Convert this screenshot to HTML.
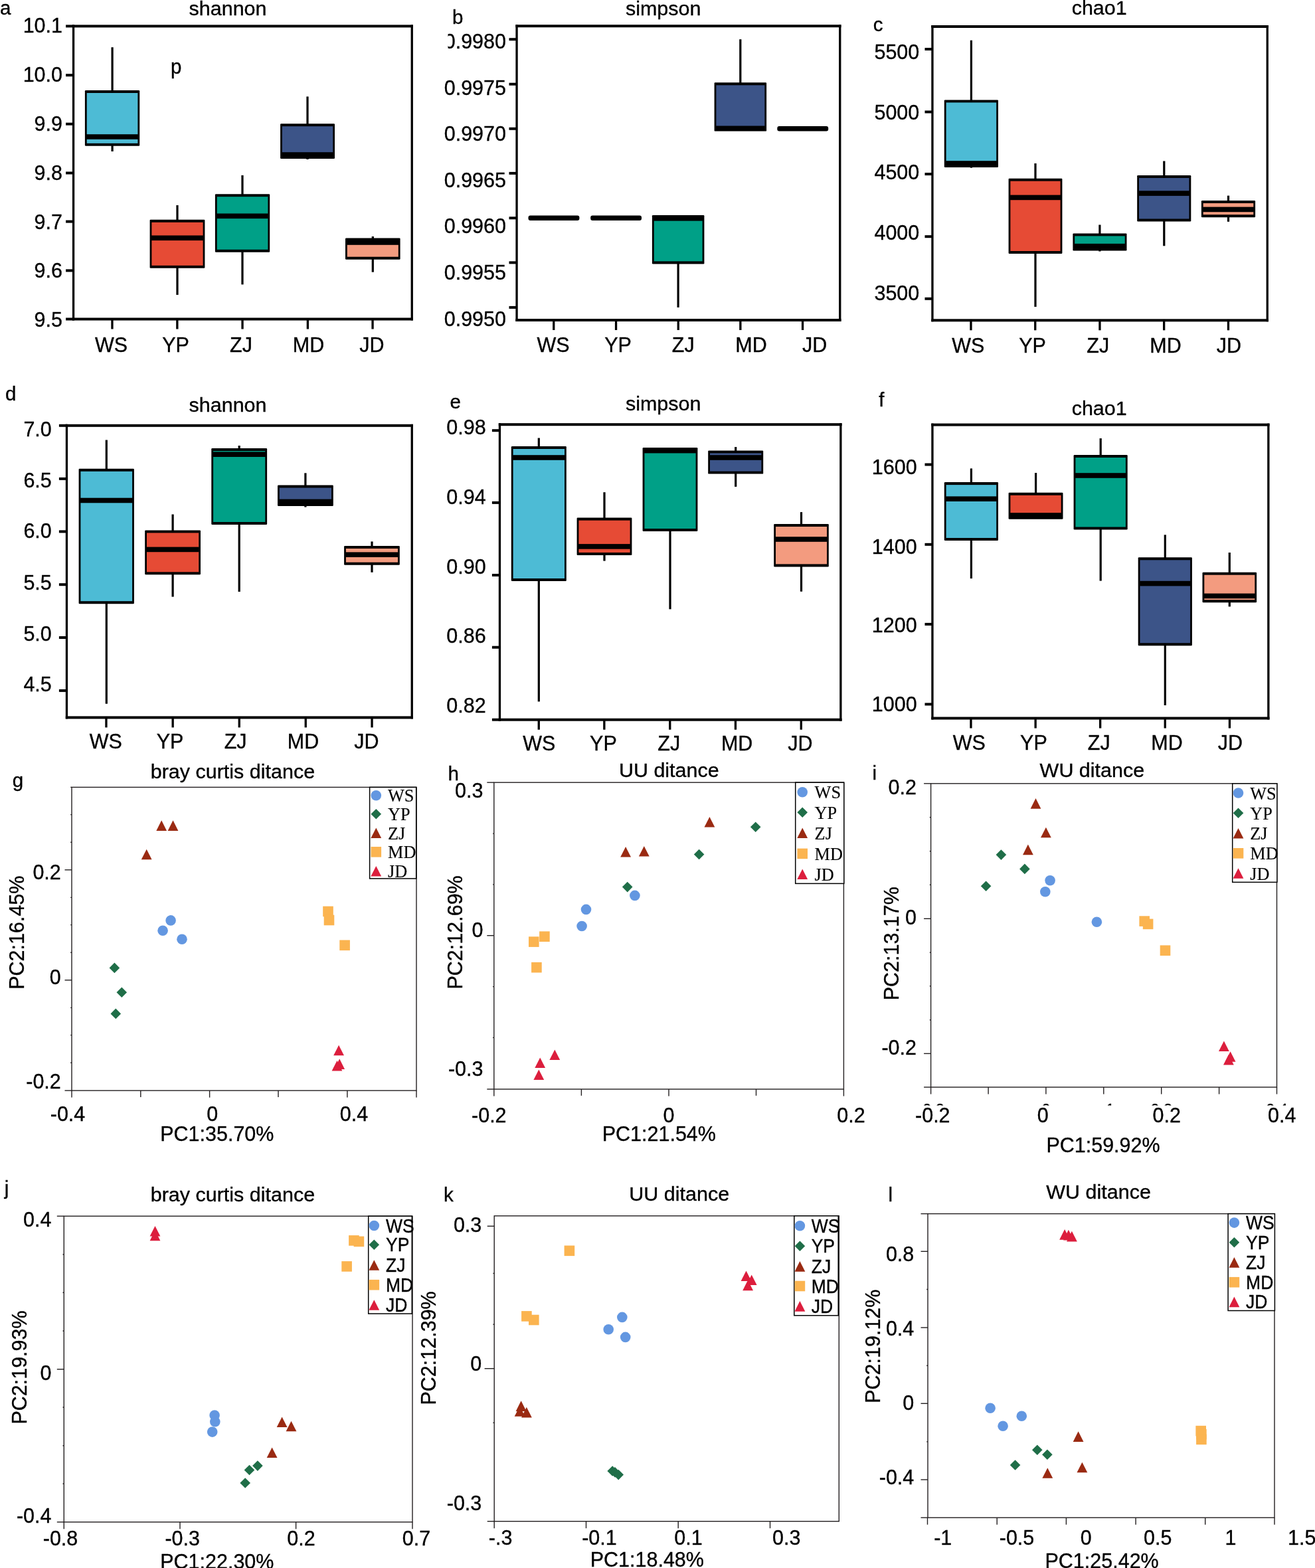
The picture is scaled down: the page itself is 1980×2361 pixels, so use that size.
<!DOCTYPE html>
<html lang="en">
<head>
<meta charset="utf-8">
<title>Alpha and beta diversity of microbial communities</title>
<style>
html,body{margin:0;padding:0;background:#fff;}
body{width:1980px;height:2361px;overflow:hidden;}
svg{display:block;}
svg text{font-family:"Liberation Sans", sans-serif;fill:#000;stroke:#000;stroke-width:0.35px;}
svg text.sf{font-family:"Liberation Serif", serif;stroke-width:0.15px;}
</style>
</head>
<body>
<svg width="1980" height="2361" viewBox="0 0 1980 2361">
<rect x="0" y="0" width="1980" height="2361" fill="#fff"/>
<rect x="167.5" y="71.2" width="3.2" height="66.8" fill="#000"/>
<rect x="167.5" y="217.8" width="3.2" height="10.2" fill="#000"/>
<rect x="127.9" y="136.0" width="82.3" height="83.8" fill="#000" rx="1.2"/>
<rect x="130.7" y="140.0" width="76.7" height="75.8" fill="#4DBBD5"/>
<rect x="129.3" y="202.2" width="79.5" height="7.6" fill="#000"/>
<rect x="265.4" y="309.0" width="3.2" height="23.8" fill="#000"/>
<rect x="265.4" y="401.8" width="3.2" height="42.2" fill="#000"/>
<rect x="225.6" y="330.8" width="82.8" height="73.0" fill="#000" rx="1.2"/>
<rect x="228.4" y="334.8" width="77.2" height="65.0" fill="#E64B35"/>
<rect x="227.0" y="354.5" width="80.0" height="7.6" fill="#000"/>
<rect x="363.4" y="263.9" width="3.2" height="30.3" fill="#000"/>
<rect x="363.4" y="377.8" width="3.2" height="50.6" fill="#000"/>
<rect x="323.9" y="292.2" width="82.3" height="87.6" fill="#000" rx="1.2"/>
<rect x="326.7" y="296.2" width="76.7" height="79.6" fill="#00A087"/>
<rect x="325.3" y="321.5" width="79.5" height="7.6" fill="#000"/>
<rect x="461.4" y="145.4" width="3.2" height="42.8" fill="#000"/>
<rect x="461.4" y="236.9" width="3.2" height="3.1" fill="#000"/>
<rect x="422.1" y="186.2" width="81.9" height="52.7" fill="#000" rx="1.2"/>
<rect x="424.9" y="190.2" width="76.3" height="44.7" fill="#3C5488"/>
<rect x="423.5" y="229.2" width="79.1" height="7.6" fill="#000"/>
<rect x="559.7" y="356.0" width="3.2" height="4.6" fill="#000"/>
<rect x="559.7" y="388.7" width="3.2" height="21.0" fill="#000"/>
<rect x="520.0" y="358.6" width="82.6" height="32.1" fill="#000" rx="1.2"/>
<rect x="522.8" y="362.6" width="77.0" height="24.1" fill="#F39B7F"/>
<rect x="521.4" y="361.2" width="79.8" height="7.6" fill="#000"/>
<rect x="108.9" y="37.4" width="513.0" height="4.0" fill="#000"/>
<rect x="108.9" y="478.5" width="513.0" height="4.0" fill="#000"/>
<rect x="108.9" y="37.4" width="3.3" height="445.1" fill="#000"/>
<rect x="618.6" y="37.4" width="3.3" height="445.1" fill="#000"/>
<rect x="99.1" y="37.4" width="11.5" height="4.0" fill="#000"/>
<rect x="99.1" y="111.2" width="11.5" height="4.0" fill="#000"/>
<rect x="99.1" y="184.7" width="11.5" height="4.0" fill="#000"/>
<rect x="99.1" y="258.5" width="11.5" height="4.0" fill="#000"/>
<rect x="99.1" y="331.6" width="11.5" height="4.0" fill="#000"/>
<rect x="99.1" y="405.4" width="11.5" height="4.0" fill="#000"/>
<rect x="99.1" y="478.5" width="11.5" height="4.0" fill="#000"/>
<rect x="167.3" y="480.5" width="3.3" height="15.0" fill="#000"/>
<rect x="265.2" y="480.5" width="3.3" height="15.0" fill="#000"/>
<rect x="363.4" y="480.5" width="3.3" height="15.0" fill="#000"/>
<rect x="461.7" y="480.5" width="3.3" height="15.0" fill="#000"/>
<rect x="559.4" y="480.5" width="3.3" height="15.0" fill="#000"/>
<text transform="translate(94.0 49.4) scale(1.000 1.040)" font-size="30.5" text-anchor="end">10.1</text>
<text transform="translate(94.0 123.3) scale(1.000 1.040)" font-size="30.5" text-anchor="end">10.0</text>
<text transform="translate(94.0 197.1) scale(1.000 1.040)" font-size="30.5" text-anchor="end">9.9</text>
<text transform="translate(94.0 270.9) scale(1.000 1.040)" font-size="30.5" text-anchor="end">9.8</text>
<text transform="translate(94.0 344.6) scale(1.000 1.040)" font-size="30.5" text-anchor="end">9.7</text>
<text transform="translate(94.0 418.4) scale(1.000 1.040)" font-size="30.5" text-anchor="end">9.6</text>
<text transform="translate(94.0 492.1) scale(1.000 1.040)" font-size="30.5" text-anchor="end">9.5</text>
<text transform="translate(167.5 529.6) scale(1.000 1.040)" font-size="30.5" text-anchor="middle">WS</text>
<text transform="translate(264.5 529.6) scale(1.000 1.040)" font-size="30.5" text-anchor="middle">YP</text>
<text transform="translate(363.0 529.6) scale(1.000 1.040)" font-size="30.5" text-anchor="middle">ZJ</text>
<text transform="translate(464.5 529.6) scale(1.000 1.040)" font-size="30.5" text-anchor="middle">MD</text>
<text transform="translate(560.0 529.6) scale(1.000 1.040)" font-size="30.5" text-anchor="middle">JD</text>
<text transform="translate(343.0 23.2) scale(1.000 0.980)" font-size="30.5" text-anchor="middle">shannon</text>
<text transform="translate(0.0 21.7) scale(1.000 1.000)" font-size="29.5" text-anchor="start">a</text>
<text transform="translate(257.0 110.8) scale(1.000 1.040)" font-size="29.5" text-anchor="start">p</text>
<rect x="795.5" y="324.5" width="76.9" height="7.6" fill="#000" rx="3.0"/>
<rect x="889.2" y="324.5" width="76.8" height="7.6" fill="#000" rx="3.0"/>
<rect x="1019.5" y="395.4" width="3.2" height="67.5" fill="#000"/>
<rect x="981.9" y="324.0" width="78.5" height="73.4" fill="#000" rx="1.2"/>
<rect x="984.7" y="328.0" width="72.9" height="65.4" fill="#00A087"/>
<rect x="983.3" y="325.0" width="75.7" height="7.6" fill="#000"/>
<rect x="1113.2" y="59.2" width="3.2" height="67.1" fill="#000"/>
<rect x="1075.6" y="124.3" width="78.5" height="73.3" fill="#000" rx="1.2"/>
<rect x="1078.4" y="128.3" width="72.9" height="65.3" fill="#3C5488"/>
<rect x="1077.0" y="189.5" width="75.7" height="7.6" fill="#000"/>
<rect x="1170.3" y="190.0" width="76.9" height="7.6" fill="#000" rx="3.0"/>
<rect x="776.4" y="37.2" width="490.1" height="4.0" fill="#000"/>
<rect x="776.4" y="480.0" width="490.1" height="4.0" fill="#000"/>
<rect x="776.4" y="37.2" width="3.3" height="446.8" fill="#000"/>
<rect x="1263.1" y="37.2" width="3.3" height="446.8" fill="#000"/>
<rect x="766.5" y="57.2" width="11.5" height="4.0" fill="#000"/>
<rect x="766.5" y="124.7" width="11.5" height="4.0" fill="#000"/>
<rect x="766.5" y="191.8" width="11.5" height="4.0" fill="#000"/>
<rect x="766.5" y="258.9" width="11.5" height="4.0" fill="#000"/>
<rect x="766.5" y="326.3" width="11.5" height="4.0" fill="#000"/>
<rect x="766.5" y="393.4" width="11.5" height="4.0" fill="#000"/>
<rect x="766.5" y="460.9" width="11.5" height="4.0" fill="#000"/>
<rect x="832.1" y="482.0" width="3.3" height="15.0" fill="#000"/>
<rect x="925.9" y="482.0" width="3.3" height="15.0" fill="#000"/>
<rect x="1019.6" y="482.0" width="3.3" height="15.0" fill="#000"/>
<rect x="1113.2" y="482.0" width="3.3" height="15.0" fill="#000"/>
<rect x="1206.9" y="482.0" width="3.3" height="15.0" fill="#000"/>
<text transform="translate(762.0 72.7) scale(1.000 1.040)" font-size="30.5" text-anchor="end">0.9980</text>
<text transform="translate(762.0 143.2) scale(1.000 1.040)" font-size="30.5" text-anchor="end">0.9975</text>
<text transform="translate(762.0 212.4) scale(1.000 1.040)" font-size="30.5" text-anchor="end">0.9970</text>
<text transform="translate(762.0 281.9) scale(1.000 1.040)" font-size="30.5" text-anchor="end">0.9965</text>
<text transform="translate(762.0 351.2) scale(1.000 1.040)" font-size="30.5" text-anchor="end">0.9960</text>
<text transform="translate(762.0 421.3) scale(1.000 1.040)" font-size="30.5" text-anchor="end">0.9955</text>
<text transform="translate(762.0 491.1) scale(1.000 1.040)" font-size="30.5" text-anchor="end">0.9950</text>
<text transform="translate(833.0 530.3) scale(1.000 1.040)" font-size="30.5" text-anchor="middle">WS</text>
<text transform="translate(930.5 530.3) scale(1.000 1.040)" font-size="30.5" text-anchor="middle">YP</text>
<text transform="translate(1028.7 530.3) scale(1.000 1.040)" font-size="30.5" text-anchor="middle">ZJ</text>
<text transform="translate(1131.0 530.3) scale(1.000 1.040)" font-size="30.5" text-anchor="middle">MD</text>
<text transform="translate(1226.6 530.3) scale(1.000 1.040)" font-size="30.5" text-anchor="middle">JD</text>
<text transform="translate(998.7 23.2) scale(1.000 0.980)" font-size="30.5" text-anchor="middle">simpson</text>
<text transform="translate(681.0 35.8) scale(1.000 1.000)" font-size="29.5" text-anchor="start">b</text>
<rect x="655.0" y="44.0" width="19.5" height="34.0" fill="#fff"/>
<rect x="1460.8" y="60.7" width="3.2" height="91.7" fill="#000"/>
<rect x="1460.8" y="250.0" width="3.2" height="2.7" fill="#000"/>
<rect x="1421.8" y="150.4" width="81.2" height="101.6" fill="#000" rx="1.2"/>
<rect x="1424.6" y="154.4" width="75.6" height="93.6" fill="#4DBBD5"/>
<rect x="1423.2" y="242.2" width="78.4" height="7.6" fill="#000"/>
<rect x="1557.4" y="246.0" width="3.2" height="24.7" fill="#000"/>
<rect x="1557.4" y="380.0" width="3.2" height="82.0" fill="#000"/>
<rect x="1518.6" y="268.7" width="80.8" height="113.3" fill="#000" rx="1.2"/>
<rect x="1521.4" y="272.7" width="75.2" height="105.3" fill="#E64B35"/>
<rect x="1520.0" y="293.6" width="78.0" height="7.6" fill="#000"/>
<rect x="1654.3" y="338.5" width="3.2" height="14.9" fill="#000"/>
<rect x="1654.3" y="375.4" width="3.2" height="3.1" fill="#000"/>
<rect x="1615.4" y="351.4" width="81.1" height="26.0" fill="#000" rx="1.2"/>
<rect x="1618.2" y="355.4" width="75.5" height="18.0" fill="#00A087"/>
<rect x="1616.8" y="366.9" width="78.3" height="7.6" fill="#000"/>
<rect x="1751.2" y="242.5" width="3.2" height="23.5" fill="#000"/>
<rect x="1751.2" y="331.5" width="3.2" height="38.8" fill="#000"/>
<rect x="1712.2" y="264.0" width="81.1" height="69.5" fill="#000" rx="1.2"/>
<rect x="1715.0" y="268.0" width="75.5" height="61.5" fill="#3C5488"/>
<rect x="1713.6" y="287.3" width="78.3" height="7.6" fill="#000"/>
<rect x="1847.9" y="294.6" width="3.2" height="9.4" fill="#000"/>
<rect x="1847.9" y="325.2" width="3.2" height="8.6" fill="#000"/>
<rect x="1808.9" y="302.0" width="81.2" height="25.2" fill="#000" rx="1.2"/>
<rect x="1811.7" y="306.0" width="75.6" height="17.2" fill="#F39B7F"/>
<rect x="1810.3" y="311.6" width="78.4" height="7.6" fill="#000"/>
<rect x="1402.3" y="38.0" width="507.6" height="4.0" fill="#000"/>
<rect x="1402.3" y="480.3" width="507.6" height="4.0" fill="#000"/>
<rect x="1402.3" y="38.0" width="3.3" height="446.3" fill="#000"/>
<rect x="1906.6" y="38.0" width="3.3" height="446.3" fill="#000"/>
<rect x="1392.5" y="72.0" width="11.5" height="4.0" fill="#000"/>
<rect x="1392.5" y="166.5" width="11.5" height="4.0" fill="#000"/>
<rect x="1392.5" y="260.1" width="11.5" height="4.0" fill="#000"/>
<rect x="1392.5" y="354.2" width="11.5" height="4.0" fill="#000"/>
<rect x="1392.5" y="447.8" width="11.5" height="4.0" fill="#000"/>
<rect x="1460.3" y="482.3" width="3.3" height="15.0" fill="#000"/>
<rect x="1557.1" y="482.3" width="3.3" height="15.0" fill="#000"/>
<rect x="1654.3" y="482.3" width="3.3" height="15.0" fill="#000"/>
<rect x="1751.0" y="482.3" width="3.3" height="15.0" fill="#000"/>
<rect x="1847.8" y="482.3" width="3.3" height="15.0" fill="#000"/>
<text transform="translate(1384.3 88.9) scale(1.000 1.040)" font-size="30.5" text-anchor="end">5500</text>
<text transform="translate(1384.3 179.5) scale(1.000 1.040)" font-size="30.5" text-anchor="end">5000</text>
<text transform="translate(1384.3 270.4) scale(1.000 1.040)" font-size="30.5" text-anchor="end">4500</text>
<text transform="translate(1384.3 360.9) scale(1.000 1.040)" font-size="30.5" text-anchor="end">4000</text>
<text transform="translate(1384.3 451.8) scale(1.000 1.040)" font-size="30.5" text-anchor="end">3500</text>
<text transform="translate(1457.7 531.3) scale(1.000 1.040)" font-size="30.5" text-anchor="middle">WS</text>
<text transform="translate(1554.5 531.3) scale(1.000 1.040)" font-size="30.5" text-anchor="middle">YP</text>
<text transform="translate(1653.2 531.3) scale(1.000 1.040)" font-size="30.5" text-anchor="middle">ZJ</text>
<text transform="translate(1755.0 531.3) scale(1.000 1.040)" font-size="30.5" text-anchor="middle">MD</text>
<text transform="translate(1850.3 531.3) scale(1.000 1.040)" font-size="30.5" text-anchor="middle">JD</text>
<text transform="translate(1655.2 21.5) scale(1.000 0.980)" font-size="30.5" text-anchor="middle">chao1</text>
<text transform="translate(1314.7 47.0) scale(1.000 1.000)" font-size="29.5" text-anchor="start">c</text>
<rect x="158.7" y="662.5" width="3.2" height="45.3" fill="#000"/>
<rect x="158.7" y="907.2" width="3.2" height="152.5" fill="#000"/>
<rect x="118.6" y="705.8" width="83.3" height="203.4" fill="#000" rx="1.2"/>
<rect x="121.4" y="709.8" width="77.7" height="195.4" fill="#4DBBD5"/>
<rect x="120.0" y="749.7" width="80.5" height="7.6" fill="#000"/>
<rect x="258.5" y="774.5" width="3.2" height="25.9" fill="#000"/>
<rect x="258.5" y="863.3" width="3.2" height="35.3" fill="#000"/>
<rect x="218.2" y="798.4" width="83.8" height="66.9" fill="#000" rx="1.2"/>
<rect x="221.0" y="802.4" width="78.2" height="58.9" fill="#E64B35"/>
<rect x="219.6" y="823.6" width="81.0" height="7.6" fill="#000"/>
<rect x="358.6" y="671.0" width="3.2" height="6.0" fill="#000"/>
<rect x="358.6" y="788.0" width="3.2" height="103.0" fill="#000"/>
<rect x="318.3" y="675.0" width="83.8" height="115.0" fill="#000" rx="1.2"/>
<rect x="321.1" y="679.0" width="78.2" height="107.0" fill="#00A087"/>
<rect x="319.7" y="680.4" width="81.0" height="7.6" fill="#000"/>
<rect x="458.3" y="712.3" width="3.2" height="20.2" fill="#000"/>
<rect x="458.3" y="759.9" width="3.2" height="3.7" fill="#000"/>
<rect x="418.0" y="730.5" width="83.8" height="31.4" fill="#000" rx="1.2"/>
<rect x="420.8" y="734.5" width="78.2" height="23.4" fill="#3C5488"/>
<rect x="419.4" y="751.6" width="81.0" height="7.6" fill="#000"/>
<rect x="558.4" y="815.4" width="3.2" height="8.6" fill="#000"/>
<rect x="558.4" y="848.7" width="3.2" height="13.1" fill="#000"/>
<rect x="518.1" y="822.0" width="83.7" height="28.7" fill="#000" rx="1.2"/>
<rect x="520.9" y="826.0" width="78.1" height="20.7" fill="#F39B7F"/>
<rect x="519.5" y="831.4" width="80.9" height="7.6" fill="#000"/>
<rect x="98.8" y="638.8" width="523.2" height="4.0" fill="#000"/>
<rect x="98.8" y="1078.4" width="523.2" height="4.0" fill="#000"/>
<rect x="98.8" y="638.8" width="3.3" height="443.6" fill="#000"/>
<rect x="618.6" y="638.8" width="3.3" height="443.6" fill="#000"/>
<rect x="88.9" y="638.8" width="11.5" height="4.0" fill="#000"/>
<rect x="88.9" y="718.9" width="11.5" height="4.0" fill="#000"/>
<rect x="88.9" y="798.4" width="11.5" height="4.0" fill="#000"/>
<rect x="88.9" y="878.2" width="11.5" height="4.0" fill="#000"/>
<rect x="88.9" y="958.0" width="11.5" height="4.0" fill="#000"/>
<rect x="88.9" y="1037.9" width="11.5" height="4.0" fill="#000"/>
<rect x="158.3" y="1080.4" width="3.3" height="15.0" fill="#000"/>
<rect x="258.5" y="1080.4" width="3.3" height="15.0" fill="#000"/>
<rect x="358.6" y="1080.4" width="3.3" height="15.0" fill="#000"/>
<rect x="458.6" y="1080.4" width="3.3" height="15.0" fill="#000"/>
<rect x="558.4" y="1080.4" width="3.3" height="15.0" fill="#000"/>
<text transform="translate(77.8 656.8) scale(1.000 1.040)" font-size="30.5" text-anchor="end">7.0</text>
<text transform="translate(77.8 733.7) scale(1.000 1.040)" font-size="30.5" text-anchor="end">6.5</text>
<text transform="translate(77.8 809.9) scale(1.000 1.040)" font-size="30.5" text-anchor="end">6.0</text>
<text transform="translate(77.8 888.2) scale(1.000 1.040)" font-size="30.5" text-anchor="end">5.5</text>
<text transform="translate(77.8 965.1) scale(1.000 1.040)" font-size="30.5" text-anchor="end">5.0</text>
<text transform="translate(77.8 1040.5) scale(1.000 1.040)" font-size="30.5" text-anchor="end">4.5</text>
<text transform="translate(159.3 1126.7) scale(1.000 1.040)" font-size="30.5" text-anchor="middle">WS</text>
<text transform="translate(256.0 1126.7) scale(1.000 1.040)" font-size="30.5" text-anchor="middle">YP</text>
<text transform="translate(354.6 1126.7) scale(1.000 1.040)" font-size="30.5" text-anchor="middle">ZJ</text>
<text transform="translate(456.5 1126.7) scale(1.000 1.040)" font-size="30.5" text-anchor="middle">MD</text>
<text transform="translate(552.0 1126.7) scale(1.000 1.040)" font-size="30.5" text-anchor="middle">JD</text>
<text transform="translate(343.0 620.1) scale(1.000 0.980)" font-size="30.5" text-anchor="middle">shannon</text>
<text transform="translate(8.0 602.5) scale(1.000 1.000)" font-size="29.5" text-anchor="start">d</text>
<rect x="809.7" y="659.5" width="3.2" height="14.5" fill="#000"/>
<rect x="809.7" y="873.0" width="3.2" height="183.4" fill="#000"/>
<rect x="769.8" y="672.0" width="83.0" height="203.0" fill="#000" rx="1.2"/>
<rect x="772.6" y="676.0" width="77.4" height="195.0" fill="#4DBBD5"/>
<rect x="771.2" y="685.2" width="80.2" height="7.6" fill="#000"/>
<rect x="908.4" y="741.2" width="3.2" height="40.4" fill="#000"/>
<rect x="908.4" y="834.0" width="3.2" height="10.6" fill="#000"/>
<rect x="868.6" y="779.6" width="82.8" height="56.4" fill="#000" rx="1.2"/>
<rect x="871.4" y="783.6" width="77.2" height="48.4" fill="#E64B35"/>
<rect x="870.0" y="819.1" width="80.0" height="7.6" fill="#000"/>
<rect x="1007.4" y="798.0" width="3.2" height="119.3" fill="#000"/>
<rect x="967.6" y="674.0" width="82.8" height="126.0" fill="#000" rx="1.2"/>
<rect x="970.4" y="678.0" width="77.2" height="118.0" fill="#00A087"/>
<rect x="969.0" y="674.8" width="80.0" height="7.6" fill="#000"/>
<rect x="1106.1" y="673.0" width="3.2" height="7.4" fill="#000"/>
<rect x="1106.1" y="711.6" width="3.2" height="21.3" fill="#000"/>
<rect x="1066.2" y="678.4" width="83.0" height="35.2" fill="#000" rx="1.2"/>
<rect x="1069.0" y="682.4" width="77.4" height="27.2" fill="#3C5488"/>
<rect x="1067.6" y="685.2" width="80.2" height="7.6" fill="#000"/>
<rect x="1204.9" y="771.1" width="3.2" height="19.9" fill="#000"/>
<rect x="1204.9" y="851.4" width="3.2" height="39.3" fill="#000"/>
<rect x="1165.2" y="789.0" width="82.6" height="64.4" fill="#000" rx="1.2"/>
<rect x="1168.0" y="793.0" width="77.0" height="56.4" fill="#F39B7F"/>
<rect x="1166.6" y="808.2" width="79.8" height="7.6" fill="#000"/>
<rect x="750.8" y="637.2" width="516.8" height="4.0" fill="#000"/>
<rect x="750.8" y="1081.7" width="516.8" height="4.0" fill="#000"/>
<rect x="750.8" y="637.2" width="3.3" height="448.5" fill="#000"/>
<rect x="1264.2" y="637.2" width="3.3" height="448.5" fill="#000"/>
<rect x="740.9" y="646.2" width="11.5" height="4.0" fill="#000"/>
<rect x="740.9" y="754.9" width="11.5" height="4.0" fill="#000"/>
<rect x="740.9" y="864.0" width="11.5" height="4.0" fill="#000"/>
<rect x="740.9" y="972.7" width="11.5" height="4.0" fill="#000"/>
<rect x="740.9" y="1081.7" width="11.5" height="4.0" fill="#000"/>
<rect x="809.6" y="1083.7" width="3.3" height="15.0" fill="#000"/>
<rect x="908.2" y="1083.7" width="3.3" height="15.0" fill="#000"/>
<rect x="1007.1" y="1083.7" width="3.3" height="15.0" fill="#000"/>
<rect x="1105.8" y="1083.7" width="3.3" height="15.0" fill="#000"/>
<rect x="1204.6" y="1083.7" width="3.3" height="15.0" fill="#000"/>
<text transform="translate(731.7 654.1) scale(1.000 1.040)" font-size="30.5" text-anchor="end">0.98</text>
<text transform="translate(731.7 759.0) scale(1.000 1.040)" font-size="30.5" text-anchor="end">0.94</text>
<text transform="translate(731.7 863.8) scale(1.000 1.040)" font-size="30.5" text-anchor="end">0.90</text>
<text transform="translate(731.7 968.1) scale(1.000 1.040)" font-size="30.5" text-anchor="end">0.86</text>
<text transform="translate(731.7 1073.1) scale(1.000 1.040)" font-size="30.5" text-anchor="end">0.82</text>
<text transform="translate(811.7 1129.8) scale(1.000 1.040)" font-size="30.5" text-anchor="middle">WS</text>
<text transform="translate(908.4 1129.8) scale(1.000 1.040)" font-size="30.5" text-anchor="middle">YP</text>
<text transform="translate(1007.3 1129.8) scale(1.000 1.040)" font-size="30.5" text-anchor="middle">ZJ</text>
<text transform="translate(1109.6 1129.8) scale(1.000 1.040)" font-size="30.5" text-anchor="middle">MD</text>
<text transform="translate(1204.8 1129.8) scale(1.000 1.040)" font-size="30.5" text-anchor="middle">JD</text>
<text transform="translate(998.7 618.2) scale(1.000 0.980)" font-size="30.5" text-anchor="middle">simpson</text>
<text transform="translate(677.5 614.5) scale(1.000 1.000)" font-size="29.5" text-anchor="start">e</text>
<rect x="1460.8" y="705.4" width="3.2" height="22.7" fill="#000"/>
<rect x="1460.8" y="812.0" width="3.2" height="59.1" fill="#000"/>
<rect x="1421.8" y="726.1" width="81.2" height="87.9" fill="#000" rx="1.2"/>
<rect x="1424.6" y="730.1" width="75.6" height="79.9" fill="#4DBBD5"/>
<rect x="1423.2" y="747.4" width="78.4" height="7.6" fill="#000"/>
<rect x="1558.0" y="712.0" width="3.2" height="31.8" fill="#000"/>
<rect x="1558.0" y="779.8" width="3.2" height="1.2" fill="#000"/>
<rect x="1518.6" y="741.8" width="81.9" height="40.0" fill="#000" rx="1.2"/>
<rect x="1521.4" y="745.8" width="76.3" height="32.0" fill="#E64B35"/>
<rect x="1520.0" y="772.1" width="79.1" height="7.6" fill="#000"/>
<rect x="1655.6" y="660.0" width="3.2" height="27.0" fill="#000"/>
<rect x="1655.6" y="795.5" width="3.2" height="79.1" fill="#000"/>
<rect x="1616.6" y="685.0" width="81.1" height="112.5" fill="#000" rx="1.2"/>
<rect x="1619.4" y="689.0" width="75.5" height="104.5" fill="#00A087"/>
<rect x="1618.0" y="712.2" width="78.3" height="7.6" fill="#000"/>
<rect x="1752.7" y="805.3" width="3.2" height="36.0" fill="#000"/>
<rect x="1752.7" y="970.2" width="3.2" height="91.8" fill="#000"/>
<rect x="1713.7" y="839.3" width="81.2" height="132.9" fill="#000" rx="1.2"/>
<rect x="1716.5" y="843.3" width="75.6" height="124.9" fill="#3C5488"/>
<rect x="1715.1" y="874.8" width="78.4" height="7.6" fill="#000"/>
<rect x="1849.7" y="832.0" width="3.2" height="31.7" fill="#000"/>
<rect x="1849.7" y="905.2" width="3.2" height="8.2" fill="#000"/>
<rect x="1810.5" y="861.7" width="81.6" height="45.5" fill="#000" rx="1.2"/>
<rect x="1813.3" y="865.7" width="76.0" height="37.5" fill="#F39B7F"/>
<rect x="1811.9" y="893.6" width="78.8" height="7.6" fill="#000"/>
<rect x="1402.3" y="637.6" width="509.2" height="4.0" fill="#000"/>
<rect x="1402.3" y="1079.5" width="509.2" height="4.0" fill="#000"/>
<rect x="1402.3" y="637.6" width="3.3" height="445.9" fill="#000"/>
<rect x="1908.2" y="637.6" width="3.3" height="445.9" fill="#000"/>
<rect x="1392.5" y="697.5" width="11.5" height="4.0" fill="#000"/>
<rect x="1392.5" y="817.8" width="11.5" height="4.0" fill="#000"/>
<rect x="1392.5" y="937.9" width="11.5" height="4.0" fill="#000"/>
<rect x="1392.5" y="1058.4" width="11.5" height="4.0" fill="#000"/>
<rect x="1460.3" y="1081.5" width="3.3" height="15.0" fill="#000"/>
<rect x="1557.5" y="1081.5" width="3.3" height="15.0" fill="#000"/>
<rect x="1655.0" y="1081.5" width="3.3" height="15.0" fill="#000"/>
<rect x="1752.6" y="1081.5" width="3.3" height="15.0" fill="#000"/>
<rect x="1849.8" y="1081.5" width="3.3" height="15.0" fill="#000"/>
<text transform="translate(1380.6 714.4) scale(1.000 1.040)" font-size="30.5" text-anchor="end">1600</text>
<text transform="translate(1380.6 833.9) scale(1.000 1.040)" font-size="30.5" text-anchor="end">1400</text>
<text transform="translate(1380.6 952.4) scale(1.000 1.040)" font-size="30.5" text-anchor="end">1200</text>
<text transform="translate(1380.6 1070.5) scale(1.000 1.040)" font-size="30.5" text-anchor="end">1000</text>
<text transform="translate(1459.3 1128.5) scale(1.000 1.040)" font-size="30.5" text-anchor="middle">WS</text>
<text transform="translate(1556.4 1128.5) scale(1.000 1.040)" font-size="30.5" text-anchor="middle">YP</text>
<text transform="translate(1654.8 1128.5) scale(1.000 1.040)" font-size="30.5" text-anchor="middle">ZJ</text>
<text transform="translate(1757.0 1128.5) scale(1.000 1.040)" font-size="30.5" text-anchor="middle">MD</text>
<text transform="translate(1852.3 1128.5) scale(1.000 1.040)" font-size="30.5" text-anchor="middle">JD</text>
<text transform="translate(1655.2 625.0) scale(1.000 0.980)" font-size="30.5" text-anchor="middle">chao1</text>
<text transform="translate(1323.3 612.0) scale(1.000 1.000)" font-size="29.5" text-anchor="start">f</text>
<circle cx="257.1" cy="1385.9" r="7.8" fill="#6397E1"/>
<circle cx="245.1" cy="1401.2" r="7.8" fill="#6397E1"/>
<circle cx="274.0" cy="1414.3" r="7.8" fill="#6397E1"/>
<polygon points="164.6,1457.4 172.4,1449.6 180.2,1457.4 172.4,1465.2" fill="#1F6E48"/>
<polygon points="175.5,1494.2 183.3,1486.4 191.1,1494.2 183.3,1502.0" fill="#1F6E48"/>
<polygon points="166.5,1526.4 174.3,1518.6 182.1,1526.4 174.3,1534.2" fill="#1F6E48"/>
<polygon points="235.3,1250.9 243.2,1235.3 251.1,1250.9" fill="#9A2A12"/>
<polygon points="252.6,1250.9 260.5,1235.3 268.4,1250.9" fill="#9A2A12"/>
<polygon points="212.8,1294.3 220.7,1278.7 228.6,1294.3" fill="#9A2A12"/>
<rect x="486.2" y="1364.6" width="15.6" height="15.6" fill="#FBB450"/>
<rect x="487.7" y="1377.7" width="15.6" height="15.6" fill="#FBB450"/>
<rect x="511.3" y="1415.5" width="15.6" height="15.6" fill="#FBB450"/>
<polygon points="502.2,1589.3 510.1,1573.7 518.0,1589.3" fill="#DC1E3D"/>
<polygon points="503.3,1609.9 511.2,1594.3 519.1,1609.9" fill="#DC1E3D"/>
<polygon points="499.6,1612.5 507.5,1596.9 515.4,1612.5" fill="#DC1E3D"/>
<rect x="108.0" y="1185.4" width="519.0" height="456.7" fill="none" stroke="#231f20" stroke-width="1.40"/>
<line x1="97.5" y1="1309.8" x2="108.0" y2="1309.8" stroke="#231f20" stroke-width="1.40" stroke-linecap="butt"/>
<line x1="97.5" y1="1475.8" x2="108.0" y2="1475.8" stroke="#231f20" stroke-width="1.40" stroke-linecap="butt"/>
<line x1="97.5" y1="1642.1" x2="108.0" y2="1642.1" stroke="#231f20" stroke-width="1.40" stroke-linecap="butt"/>
<line x1="106.2" y1="1185.4" x2="108.0" y2="1185.4" stroke="#231f20" stroke-width="1.40" stroke-linecap="butt"/>
<line x1="106.2" y1="1226.6" x2="108.0" y2="1226.6" stroke="#231f20" stroke-width="1.40" stroke-linecap="butt"/>
<line x1="106.2" y1="1268.2" x2="108.0" y2="1268.2" stroke="#231f20" stroke-width="1.40" stroke-linecap="butt"/>
<line x1="106.2" y1="1351.4" x2="108.0" y2="1351.4" stroke="#231f20" stroke-width="1.40" stroke-linecap="butt"/>
<line x1="106.2" y1="1392.6" x2="108.0" y2="1392.6" stroke="#231f20" stroke-width="1.40" stroke-linecap="butt"/>
<line x1="106.2" y1="1434.2" x2="108.0" y2="1434.2" stroke="#231f20" stroke-width="1.40" stroke-linecap="butt"/>
<line x1="106.2" y1="1517.4" x2="108.0" y2="1517.4" stroke="#231f20" stroke-width="1.40" stroke-linecap="butt"/>
<line x1="106.2" y1="1558.6" x2="108.0" y2="1558.6" stroke="#231f20" stroke-width="1.40" stroke-linecap="butt"/>
<line x1="106.2" y1="1600.2" x2="108.0" y2="1600.2" stroke="#231f20" stroke-width="1.40" stroke-linecap="butt"/>
<line x1="108.0" y1="1642.1" x2="108.0" y2="1652.6" stroke="#231f20" stroke-width="1.40" stroke-linecap="butt"/>
<line x1="315.6" y1="1642.1" x2="315.6" y2="1652.6" stroke="#231f20" stroke-width="1.40" stroke-linecap="butt"/>
<line x1="522.9" y1="1642.1" x2="522.9" y2="1652.6" stroke="#231f20" stroke-width="1.40" stroke-linecap="butt"/>
<line x1="627.0" y1="1642.1" x2="627.0" y2="1652.6" stroke="#231f20" stroke-width="1.40" stroke-linecap="butt"/>
<line x1="211.8" y1="1642.1" x2="211.8" y2="1651.9" stroke="#231f20" stroke-width="1.40" stroke-linecap="butt"/>
<line x1="419.0" y1="1642.1" x2="419.0" y2="1651.9" stroke="#231f20" stroke-width="1.40" stroke-linecap="butt"/>
<text transform="translate(91.8 1323.9) scale(1.000 1.040)" font-size="30.5" text-anchor="end">0.2</text>
<text transform="translate(91.8 1482.2) scale(1.000 1.040)" font-size="30.5" text-anchor="end">0</text>
<text transform="translate(91.8 1639.0) scale(1.000 1.040)" font-size="30.5" text-anchor="end">-0.2</text>
<text transform="translate(102.0 1687.6) scale(1.000 1.040)" font-size="30.5" text-anchor="middle">-0.4</text>
<text transform="translate(319.7 1687.6) scale(1.000 1.040)" font-size="30.5" text-anchor="middle">0</text>
<text transform="translate(533.0 1687.6) scale(1.000 1.040)" font-size="30.5" text-anchor="middle">0.4</text>
<text transform="translate(326.8 1717.8) scale(1.000 1.040)" font-size="30.5" text-anchor="middle">PC1:35.70%</text>
<text transform="translate(35.6 1404.2) rotate(-90) scale(1.000 1.040)" font-size="30.5" text-anchor="middle">PC2:16.45%</text>
<text transform="translate(350.4 1171.9) scale(1.000 0.980)" font-size="30.5" text-anchor="middle">bray curtis ditance</text>
<text transform="translate(18.7 1184.9) scale(1.000 1.000)" font-size="29.5" text-anchor="start">g</text>
<rect x="556.6" y="1185.4" width="70.1" height="137.5" fill="#fff" stroke="#000" stroke-width="1.5"/>
<circle cx="566.3" cy="1197.7" r="7.8" fill="#6397E1"/>
<text transform="translate(584.0 1207.2) scale(1.000 1.030)" font-size="26.3" text-anchor="start" class="sf">WS</text>
<polygon points="558.5,1225.8 566.3,1218.0 574.1,1225.8 566.3,1233.6" fill="#1F6E48"/>
<text transform="translate(584.0 1235.3) scale(1.000 1.030)" font-size="26.3" text-anchor="start" class="sf">YP</text>
<polygon points="558.4,1262.1 566.3,1246.5 574.2,1262.1" fill="#9A2A12"/>
<text transform="translate(584.0 1263.8) scale(1.000 1.030)" font-size="26.3" text-anchor="start" class="sf">ZJ</text>
<rect x="558.5" y="1275.0" width="15.6" height="15.6" fill="#FBB450"/>
<text transform="translate(584.0 1292.3) scale(1.000 1.030)" font-size="26.3" text-anchor="start" class="sf">MD</text>
<polygon points="558.4,1319.5 566.3,1303.9 574.2,1319.5" fill="#DC1E3D"/>
<text transform="translate(584.0 1321.2) scale(1.000 1.030)" font-size="26.3" text-anchor="start" class="sf">JD</text>
<circle cx="955.9" cy="1348.4" r="7.8" fill="#6397E1"/>
<circle cx="882.5" cy="1369.4" r="7.8" fill="#6397E1"/>
<circle cx="876.1" cy="1394.5" r="7.8" fill="#6397E1"/>
<polygon points="1129.9,1245.3 1137.7,1237.5 1145.5,1245.3 1137.7,1253.1" fill="#1F6E48"/>
<polygon points="1044.8,1286.5 1052.6,1278.7 1060.4,1286.5 1052.6,1294.3" fill="#1F6E48"/>
<polygon points="936.9,1335.6 944.7,1327.8 952.5,1335.6 944.7,1343.4" fill="#1F6E48"/>
<polygon points="934.2,1290.6 942.1,1275.0 950.0,1290.6" fill="#9A2A12"/>
<polygon points="961.9,1289.5 969.8,1273.9 977.7,1289.5" fill="#9A2A12"/>
<polygon points="1060.5,1245.6 1068.4,1230.0 1076.3,1245.6" fill="#9A2A12"/>
<rect x="812.1" y="1402.4" width="15.6" height="15.6" fill="#FBB450"/>
<rect x="796.0" y="1410.3" width="15.6" height="15.6" fill="#FBB450"/>
<rect x="800.1" y="1448.9" width="15.6" height="15.6" fill="#FBB450"/>
<polygon points="827.4,1596.0 835.3,1580.4 843.2,1596.0" fill="#DC1E3D"/>
<polygon points="805.3,1608.0 813.2,1592.4 821.1,1608.0" fill="#DC1E3D"/>
<polygon points="803.4,1626.0 811.3,1610.4 819.2,1626.0" fill="#DC1E3D"/>
<rect x="743.8" y="1178.2" width="526.6" height="461.8" fill="none" stroke="#231f20" stroke-width="1.40"/>
<line x1="733.3" y1="1178.2" x2="743.8" y2="1178.2" stroke="#231f20" stroke-width="1.40" stroke-linecap="butt"/>
<line x1="733.3" y1="1408.7" x2="743.8" y2="1408.7" stroke="#231f20" stroke-width="1.40" stroke-linecap="butt"/>
<line x1="733.3" y1="1640.0" x2="743.8" y2="1640.0" stroke="#231f20" stroke-width="1.40" stroke-linecap="butt"/>
<line x1="742.0" y1="1255.1" x2="743.8" y2="1255.1" stroke="#231f20" stroke-width="1.40" stroke-linecap="butt"/>
<line x1="742.0" y1="1331.9" x2="743.8" y2="1331.9" stroke="#231f20" stroke-width="1.40" stroke-linecap="butt"/>
<line x1="742.0" y1="1485.6" x2="743.8" y2="1485.6" stroke="#231f20" stroke-width="1.40" stroke-linecap="butt"/>
<line x1="742.0" y1="1562.4" x2="743.8" y2="1562.4" stroke="#231f20" stroke-width="1.40" stroke-linecap="butt"/>
<line x1="743.8" y1="1640.0" x2="743.8" y2="1650.5" stroke="#231f20" stroke-width="1.40" stroke-linecap="butt"/>
<line x1="1007.0" y1="1640.0" x2="1007.0" y2="1650.5" stroke="#231f20" stroke-width="1.40" stroke-linecap="butt"/>
<line x1="1270.4" y1="1640.0" x2="1270.4" y2="1650.5" stroke="#231f20" stroke-width="1.40" stroke-linecap="butt"/>
<line x1="875.4" y1="1640.0" x2="875.4" y2="1649.8" stroke="#231f20" stroke-width="1.40" stroke-linecap="butt"/>
<line x1="1138.5" y1="1640.0" x2="1138.5" y2="1649.8" stroke="#231f20" stroke-width="1.40" stroke-linecap="butt"/>
<text transform="translate(727.5 1200.8) scale(1.000 1.040)" font-size="30.5" text-anchor="end">0.3</text>
<text transform="translate(727.5 1410.7) scale(1.000 1.040)" font-size="30.5" text-anchor="end">0</text>
<text transform="translate(727.5 1620.0) scale(1.000 1.040)" font-size="30.5" text-anchor="end">-0.3</text>
<text transform="translate(736.3 1690.1) scale(1.000 1.040)" font-size="30.5" text-anchor="middle">-0.2</text>
<text transform="translate(1007.0 1690.1) scale(1.000 1.040)" font-size="30.5" text-anchor="middle">0</text>
<text transform="translate(1281.5 1690.1) scale(1.000 1.040)" font-size="30.5" text-anchor="middle">0.2</text>
<text transform="translate(992.3 1717.5) scale(1.000 1.040)" font-size="30.5" text-anchor="middle">PC1:21.54%</text>
<text transform="translate(695.5 1403.9) rotate(-90) scale(1.000 1.040)" font-size="30.5" text-anchor="middle">PC2:12.69%</text>
<text transform="translate(1007.3 1170.0) scale(1.000 0.980)" font-size="30.5" text-anchor="middle">UU ditance</text>
<text transform="translate(674.5 1175.3) scale(1.000 1.000)" font-size="29.5" text-anchor="start">h</text>
<rect x="1197.7" y="1178.2" width="73.1" height="152.2" fill="#fff" stroke="#000" stroke-width="1.5"/>
<circle cx="1208.2" cy="1192.8" r="7.8" fill="#6397E1"/>
<text transform="translate(1226.6 1202.3) scale(1.000 1.030)" font-size="26.3" text-anchor="start" class="sf">WS</text>
<polygon points="1200.4,1223.2 1208.2,1215.4 1216.0,1223.2 1208.2,1231.0" fill="#1F6E48"/>
<text transform="translate(1226.6 1232.7) scale(1.000 1.030)" font-size="26.3" text-anchor="start" class="sf">YP</text>
<polygon points="1200.3,1262.1 1208.2,1246.5 1216.1,1262.1" fill="#9A2A12"/>
<text transform="translate(1226.6 1263.8) scale(1.000 1.030)" font-size="26.3" text-anchor="start" class="sf">ZJ</text>
<rect x="1200.4" y="1277.6" width="15.6" height="15.6" fill="#FBB450"/>
<text transform="translate(1226.6 1294.9) scale(1.000 1.030)" font-size="26.3" text-anchor="start" class="sf">MD</text>
<polygon points="1200.3,1324.0 1208.2,1308.4 1216.1,1324.0" fill="#DC1E3D"/>
<text transform="translate(1226.6 1325.7) scale(1.000 1.030)" font-size="26.3" text-anchor="start" class="sf">JD</text>
<circle cx="1581.1" cy="1325.7" r="7.8" fill="#6397E1"/>
<circle cx="1573.8" cy="1342.7" r="7.8" fill="#6397E1"/>
<circle cx="1651.4" cy="1388.3" r="7.8" fill="#6397E1"/>
<polygon points="1499.6,1287.1 1507.4,1279.3 1515.2,1287.1 1507.4,1294.9" fill="#1F6E48"/>
<polygon points="1535.1,1308.4 1542.9,1300.6 1550.7,1308.4 1542.9,1316.2" fill="#1F6E48"/>
<polygon points="1476.8,1334.2 1484.6,1326.4 1492.4,1334.2 1484.6,1342.0" fill="#1F6E48"/>
<polygon points="1551.6,1217.7 1559.5,1202.1 1567.4,1217.7" fill="#9A2A12"/>
<polygon points="1567.0,1261.3 1574.9,1245.7 1582.8,1261.3" fill="#9A2A12"/>
<polygon points="1540.0,1287.2 1547.9,1271.6 1555.8,1287.2" fill="#9A2A12"/>
<rect x="1715.4" y="1379.3" width="15.6" height="15.6" fill="#FBB450"/>
<rect x="1720.8" y="1383.6" width="15.6" height="15.6" fill="#FBB450"/>
<rect x="1746.7" y="1423.4" width="15.6" height="15.6" fill="#FBB450"/>
<polygon points="1835.0,1583.0 1842.9,1567.4 1850.8,1583.0" fill="#DC1E3D"/>
<polygon points="1844.7,1598.8 1852.6,1583.2 1860.5,1598.8" fill="#DC1E3D"/>
<polygon points="1842.0,1603.5 1849.9,1587.9 1857.8,1603.5" fill="#DC1E3D"/>
<rect x="1401.6" y="1179.8" width="520.9" height="457.2" fill="none" stroke="#231f20" stroke-width="1.40"/>
<line x1="1391.1" y1="1179.8" x2="1401.6" y2="1179.8" stroke="#231f20" stroke-width="1.40" stroke-linecap="butt"/>
<line x1="1391.1" y1="1383.3" x2="1401.6" y2="1383.3" stroke="#231f20" stroke-width="1.40" stroke-linecap="butt"/>
<line x1="1391.1" y1="1586.4" x2="1401.6" y2="1586.4" stroke="#231f20" stroke-width="1.40" stroke-linecap="butt"/>
<line x1="1391.1" y1="1637.0" x2="1401.6" y2="1637.0" stroke="#231f20" stroke-width="1.40" stroke-linecap="butt"/>
<line x1="1399.8" y1="1230.7" x2="1401.6" y2="1230.7" stroke="#231f20" stroke-width="1.40" stroke-linecap="butt"/>
<line x1="1399.8" y1="1281.7" x2="1401.6" y2="1281.7" stroke="#231f20" stroke-width="1.40" stroke-linecap="butt"/>
<line x1="1399.8" y1="1332.3" x2="1401.6" y2="1332.3" stroke="#231f20" stroke-width="1.40" stroke-linecap="butt"/>
<line x1="1399.8" y1="1434.2" x2="1401.6" y2="1434.2" stroke="#231f20" stroke-width="1.40" stroke-linecap="butt"/>
<line x1="1399.8" y1="1484.8" x2="1401.6" y2="1484.8" stroke="#231f20" stroke-width="1.40" stroke-linecap="butt"/>
<line x1="1399.8" y1="1535.8" x2="1401.6" y2="1535.8" stroke="#231f20" stroke-width="1.40" stroke-linecap="butt"/>
<line x1="1401.6" y1="1637.0" x2="1401.6" y2="1647.5" stroke="#231f20" stroke-width="1.40" stroke-linecap="butt"/>
<line x1="1488.1" y1="1637.0" x2="1488.1" y2="1647.5" stroke="#231f20" stroke-width="1.40" stroke-linecap="butt"/>
<line x1="1574.9" y1="1637.0" x2="1574.9" y2="1647.5" stroke="#231f20" stroke-width="1.40" stroke-linecap="butt"/>
<line x1="1661.8" y1="1637.0" x2="1661.8" y2="1647.5" stroke="#231f20" stroke-width="1.40" stroke-linecap="butt"/>
<line x1="1748.7" y1="1637.0" x2="1748.7" y2="1647.5" stroke="#231f20" stroke-width="1.40" stroke-linecap="butt"/>
<line x1="1835.6" y1="1637.0" x2="1835.6" y2="1647.5" stroke="#231f20" stroke-width="1.40" stroke-linecap="butt"/>
<line x1="1922.5" y1="1637.0" x2="1922.5" y2="1647.5" stroke="#231f20" stroke-width="1.40" stroke-linecap="butt"/>
<text transform="translate(1380.0 1196.3) scale(1.000 1.040)" font-size="30.5" text-anchor="end">0.2</text>
<text transform="translate(1380.0 1391.5) scale(1.000 1.040)" font-size="30.5" text-anchor="end">0</text>
<text transform="translate(1380.0 1588.2) scale(1.000 1.040)" font-size="30.5" text-anchor="end">-0.2</text>
<text transform="translate(1404.3 1689.5) scale(1.000 1.040)" font-size="30.5" text-anchor="middle">-0.2</text>
<text transform="translate(1570.3 1689.5) scale(1.000 1.040)" font-size="30.5" text-anchor="middle">0</text>
<text transform="translate(1756.8 1689.5) scale(1.000 1.040)" font-size="30.5" text-anchor="middle">0.2</text>
<text transform="translate(1930.2 1689.5) scale(1.000 1.040)" font-size="30.5" text-anchor="middle">0.4</text>
<text transform="translate(1661.0 1734.9) scale(1.000 1.040)" font-size="30.5" text-anchor="middle">PC1:59.92%</text>
<text transform="translate(1353.0 1420.7) rotate(-90) scale(1.000 1.040)" font-size="30.5" text-anchor="middle">PC2:13.17%</text>
<text transform="translate(1644.4 1170.0) scale(1.000 0.980)" font-size="30.5" text-anchor="middle">WU ditance</text>
<text transform="translate(1313.5 1174.0) scale(1.000 1.000)" font-size="29.5" text-anchor="start">i</text>
<clipPath id="gc0"><rect x="1380.0" y="1661.3" width="50.0" height="3.3"/></clipPath>
<g clip-path="url(#gc0)"><text x="1401.6" y="1678.6" font-size="23.4" text-anchor="middle">-0.2</text></g>
<clipPath id="gc1"><rect x="1560.0" y="1661.3" width="30.0" height="3.3"/></clipPath>
<g clip-path="url(#gc1)"><text x="1574.9" y="1678.6" font-size="23.4" text-anchor="middle">0</text></g>
<clipPath id="gc2"><rect x="1668.0" y="1661.3" width="12.0" height="3.3"/></clipPath>
<g clip-path="url(#gc2)"><text x="1661.8" y="1678.6" font-size="23.4" text-anchor="middle">0.1</text></g>
<clipPath id="gc3"><rect x="1730.0" y="1661.3" width="40.0" height="3.3"/></clipPath>
<g clip-path="url(#gc3)"><text x="1748.7" y="1678.6" font-size="23.4" text-anchor="middle">0.2</text></g>
<clipPath id="gc4"><rect x="1900.0" y="1661.3" width="45.0" height="3.3"/></clipPath>
<g clip-path="url(#gc4)"><text x="1922.5" y="1678.6" font-size="23.4" text-anchor="middle">0.4</text></g>
<rect x="1855.7" y="1179.8" width="67.2" height="148.6" fill="#fff" stroke="#000" stroke-width="1.5"/>
<circle cx="1864.5" cy="1194.0" r="7.8" fill="#6397E1"/>
<text transform="translate(1882.3 1203.5) scale(1.000 1.030)" font-size="26.3" text-anchor="start" class="sf">WS</text>
<polygon points="1856.7,1224.2 1864.5,1216.4 1872.3,1224.2 1864.5,1232.0" fill="#1F6E48"/>
<text transform="translate(1882.3 1233.7) scale(1.000 1.030)" font-size="26.3" text-anchor="start" class="sf">YP</text>
<polygon points="1856.6,1262.5 1864.5,1246.9 1872.4,1262.5" fill="#9A2A12"/>
<text transform="translate(1882.3 1264.2) scale(1.000 1.030)" font-size="26.3" text-anchor="start" class="sf">ZJ</text>
<rect x="1856.7" y="1277.0" width="15.6" height="15.6" fill="#FBB450"/>
<text transform="translate(1882.3 1294.3) scale(1.000 1.030)" font-size="26.3" text-anchor="start" class="sf">MD</text>
<polygon points="1856.6,1322.8 1864.5,1307.2 1872.4,1322.8" fill="#DC1E3D"/>
<text transform="translate(1882.3 1324.5) scale(1.000 1.030)" font-size="26.3" text-anchor="start" class="sf">JD</text>
<circle cx="323.1" cy="2131.0" r="7.8" fill="#6397E1"/>
<circle cx="323.8" cy="2140.8" r="7.8" fill="#6397E1"/>
<circle cx="319.7" cy="2156.1" r="7.8" fill="#6397E1"/>
<polygon points="380.1,2207.1 387.9,2199.3 395.7,2207.1 387.9,2214.9" fill="#1F6E48"/>
<polygon points="367.7,2213.5 375.5,2205.7 383.3,2213.5 375.5,2221.3" fill="#1F6E48"/>
<polygon points="361.4,2233.0 369.2,2225.2 377.0,2233.0 369.2,2240.8" fill="#1F6E48"/>
<polygon points="416.7,2149.0 424.6,2133.4 432.5,2149.0" fill="#9A2A12"/>
<polygon points="430.6,2155.3 438.5,2139.7 446.4,2155.3" fill="#9A2A12"/>
<polygon points="401.7,2195.1 409.6,2179.5 417.5,2195.1" fill="#9A2A12"/>
<rect x="525.1" y="1860.1" width="15.6" height="15.6" fill="#FBB450"/>
<rect x="532.6" y="1861.6" width="15.6" height="15.6" fill="#FBB450"/>
<rect x="514.3" y="1899.1" width="15.6" height="15.6" fill="#FBB450"/>
<polygon points="225.6,1861.5 233.5,1845.9 241.4,1861.5" fill="#DC1E3D"/>
<polygon points="225.6,1868.2 233.5,1852.6 241.4,1868.2" fill="#DC1E3D"/>
<rect x="96.3" y="1831.2" width="524.7" height="460.6" fill="none" stroke="#231f20" stroke-width="1.40"/>
<line x1="85.8" y1="1831.2" x2="96.3" y2="1831.2" stroke="#231f20" stroke-width="1.40" stroke-linecap="butt"/>
<line x1="85.8" y1="2061.7" x2="96.3" y2="2061.7" stroke="#231f20" stroke-width="1.40" stroke-linecap="butt"/>
<line x1="85.8" y1="2291.8" x2="96.3" y2="2291.8" stroke="#231f20" stroke-width="1.40" stroke-linecap="butt"/>
<line x1="94.5" y1="1888.9" x2="96.3" y2="1888.9" stroke="#231f20" stroke-width="1.40" stroke-linecap="butt"/>
<line x1="94.5" y1="1946.3" x2="96.3" y2="1946.3" stroke="#231f20" stroke-width="1.40" stroke-linecap="butt"/>
<line x1="94.5" y1="2004.0" x2="96.3" y2="2004.0" stroke="#231f20" stroke-width="1.40" stroke-linecap="butt"/>
<line x1="94.5" y1="2119.0" x2="96.3" y2="2119.0" stroke="#231f20" stroke-width="1.40" stroke-linecap="butt"/>
<line x1="94.5" y1="2176.8" x2="96.3" y2="2176.8" stroke="#231f20" stroke-width="1.40" stroke-linecap="butt"/>
<line x1="94.5" y1="2234.1" x2="96.3" y2="2234.1" stroke="#231f20" stroke-width="1.40" stroke-linecap="butt"/>
<line x1="96.3" y1="2291.8" x2="96.3" y2="2302.3" stroke="#231f20" stroke-width="1.40" stroke-linecap="butt"/>
<line x1="271.0" y1="2291.8" x2="271.0" y2="2302.3" stroke="#231f20" stroke-width="1.40" stroke-linecap="butt"/>
<line x1="445.6" y1="2291.8" x2="445.6" y2="2302.3" stroke="#231f20" stroke-width="1.40" stroke-linecap="butt"/>
<line x1="621.0" y1="2291.8" x2="621.0" y2="2302.3" stroke="#231f20" stroke-width="1.40" stroke-linecap="butt"/>
<text transform="translate(77.5 1847.0) scale(1.000 1.040)" font-size="30.5" text-anchor="end">0.4</text>
<text transform="translate(77.5 2078.2) scale(1.000 1.040)" font-size="30.5" text-anchor="end">0</text>
<text transform="translate(77.5 2293.0) scale(1.000 1.040)" font-size="30.5" text-anchor="end">-0.4</text>
<text transform="translate(91.0 2326.8) scale(1.000 1.040)" font-size="30.5" text-anchor="middle">-0.8</text>
<text transform="translate(274.7 2326.8) scale(1.000 1.040)" font-size="30.5" text-anchor="middle">-0.3</text>
<text transform="translate(453.5 2326.8) scale(1.000 1.040)" font-size="30.5" text-anchor="middle">0.2</text>
<text transform="translate(627.0 2326.8) scale(1.000 1.040)" font-size="30.5" text-anchor="middle">0.7</text>
<text transform="translate(326.8 2361.5) scale(1.000 1.040)" font-size="30.5" text-anchor="middle">PC1:22.30%</text>
<text transform="translate(40.0 2059.0) rotate(-90) scale(1.000 1.040)" font-size="30.5" text-anchor="middle">PC2:19.93%</text>
<text transform="translate(350.4 1808.7) scale(1.000 0.980)" font-size="30.5" text-anchor="middle">bray curtis ditance</text>
<text transform="translate(6.7 1799.0) scale(1.000 1.000)" font-size="29.5" text-anchor="start">j</text>
<rect x="554.7" y="1831.2" width="65.6" height="146.9" fill="#fff" stroke="#000" stroke-width="1.5"/>
<circle cx="563.3" cy="1845.5" r="7.8" fill="#6397E1"/>
<text transform="translate(581.0 1855.5) scale(1.000 1.100)" font-size="26.5" text-anchor="start">WS</text>
<polygon points="555.5,1874.3 563.3,1866.5 571.1,1874.3 563.3,1882.1" fill="#1F6E48"/>
<text transform="translate(581.0 1884.3) scale(1.000 1.100)" font-size="26.5" text-anchor="start">YP</text>
<polygon points="555.4,1912.8 563.3,1897.2 571.2,1912.8" fill="#9A2A12"/>
<text transform="translate(581.0 1915.0) scale(1.000 1.100)" font-size="26.5" text-anchor="start">ZJ</text>
<rect x="555.5" y="1926.9" width="15.6" height="15.6" fill="#FBB450"/>
<text transform="translate(581.0 1944.7) scale(1.000 1.100)" font-size="26.5" text-anchor="start">MD</text>
<polygon points="555.4,1972.8 563.3,1957.2 571.2,1972.8" fill="#DC1E3D"/>
<text transform="translate(581.0 1975.0) scale(1.000 1.100)" font-size="26.5" text-anchor="start">JD</text>
<circle cx="936.8" cy="1983.4" r="7.8" fill="#6397E1"/>
<circle cx="916.2" cy="2001.7" r="7.8" fill="#6397E1"/>
<circle cx="941.7" cy="2013.4" r="7.8" fill="#6397E1"/>
<polygon points="914.4,2215.0 922.2,2207.2 930.0,2215.0 922.2,2222.8" fill="#1F6E48"/>
<polygon points="918.2,2216.9 926.0,2209.1 933.8,2216.9 926.0,2224.7" fill="#1F6E48"/>
<polygon points="923.4,2220.6 931.2,2212.8 939.0,2220.6 931.2,2228.4" fill="#1F6E48"/>
<polygon points="776.7,2124.9 784.6,2109.3 792.5,2124.9" fill="#9A2A12"/>
<polygon points="774.7,2132.8 782.6,2117.2 790.5,2132.8" fill="#9A2A12"/>
<polygon points="785.0,2134.4 792.9,2118.8 800.8,2134.4" fill="#9A2A12"/>
<rect x="849.6" y="1875.5" width="15.6" height="15.6" fill="#FBB450"/>
<rect x="785.1" y="1974.1" width="15.6" height="15.6" fill="#FBB450"/>
<rect x="796.0" y="1979.7" width="15.6" height="15.6" fill="#FBB450"/>
<polygon points="1115.6,1929.0 1123.5,1913.4 1131.4,1929.0" fill="#DC1E3D"/>
<polygon points="1123.8,1935.0 1131.7,1919.4 1139.6,1935.0" fill="#DC1E3D"/>
<polygon points="1118.2,1943.2 1126.1,1927.6 1134.0,1943.2" fill="#DC1E3D"/>
<rect x="744.2" y="1830.8" width="519.1" height="459.9" fill="none" stroke="#231f20" stroke-width="1.40"/>
<line x1="733.7" y1="1846.3" x2="744.2" y2="1846.3" stroke="#231f20" stroke-width="1.40" stroke-linecap="butt"/>
<line x1="729.6" y1="2060.7" x2="744.2" y2="2060.7" stroke="#231f20" stroke-width="1.40" stroke-linecap="butt"/>
<line x1="733.7" y1="2290.7" x2="744.2" y2="2290.7" stroke="#231f20" stroke-width="1.40" stroke-linecap="butt"/>
<line x1="742.4" y1="1917.4" x2="744.2" y2="1917.4" stroke="#231f20" stroke-width="1.40" stroke-linecap="butt"/>
<line x1="742.4" y1="1994.2" x2="744.2" y2="1994.2" stroke="#231f20" stroke-width="1.40" stroke-linecap="butt"/>
<line x1="742.4" y1="2142.3" x2="744.2" y2="2142.3" stroke="#231f20" stroke-width="1.40" stroke-linecap="butt"/>
<line x1="744.2" y1="2290.7" x2="744.2" y2="2301.2" stroke="#231f20" stroke-width="1.40" stroke-linecap="butt"/>
<line x1="882.5" y1="2290.7" x2="882.5" y2="2301.2" stroke="#231f20" stroke-width="1.40" stroke-linecap="butt"/>
<line x1="1021.2" y1="2290.7" x2="1021.2" y2="2301.2" stroke="#231f20" stroke-width="1.40" stroke-linecap="butt"/>
<line x1="1159.5" y1="2290.7" x2="1159.5" y2="2301.2" stroke="#231f20" stroke-width="1.40" stroke-linecap="butt"/>
<text transform="translate(725.3 1854.9) scale(1.000 1.040)" font-size="30.5" text-anchor="end">0.3</text>
<text transform="translate(725.3 2064.4) scale(1.000 1.040)" font-size="30.5" text-anchor="end">0</text>
<text transform="translate(725.3 2274.4) scale(1.000 1.040)" font-size="30.5" text-anchor="end">-0.3</text>
<text transform="translate(753.6 2326.3) scale(1.000 1.040)" font-size="30.5" text-anchor="middle">-.3</text>
<text transform="translate(902.4 2326.3) scale(1.000 1.040)" font-size="30.5" text-anchor="middle">-0.1</text>
<text transform="translate(1036.5 2326.3) scale(1.000 1.040)" font-size="30.5" text-anchor="middle">0.1</text>
<text transform="translate(1184.2 2326.3) scale(1.000 1.040)" font-size="30.5" text-anchor="middle">0.3</text>
<text transform="translate(974.3 2358.6) scale(1.000 1.040)" font-size="30.5" text-anchor="middle">PC1:18.48%</text>
<text transform="translate(655.5 2029.9) rotate(-90) scale(1.000 1.040)" font-size="30.5" text-anchor="middle">PC2:12.39%</text>
<text transform="translate(1022.7 1807.6) scale(1.000 0.980)" font-size="30.5" text-anchor="middle">UU ditance</text>
<text transform="translate(668.0 1808.7) scale(1.000 1.000)" font-size="29.5" text-anchor="start">k</text>
<rect x="1195.8" y="1830.8" width="66.4" height="150.0" fill="#fff" stroke="#000" stroke-width="1.5"/>
<circle cx="1204.4" cy="1845.8" r="7.8" fill="#6397E1"/>
<text transform="translate(1221.7 1855.8) scale(1.000 1.100)" font-size="26.5" text-anchor="start">WS</text>
<polygon points="1196.6,1876.2 1204.4,1868.4 1212.2,1876.2 1204.4,1884.0" fill="#1F6E48"/>
<text transform="translate(1221.7 1886.2) scale(1.000 1.100)" font-size="26.5" text-anchor="start">YP</text>
<polygon points="1196.5,1914.7 1204.4,1899.1 1212.3,1914.7" fill="#9A2A12"/>
<text transform="translate(1221.7 1916.9) scale(1.000 1.100)" font-size="26.5" text-anchor="start">ZJ</text>
<rect x="1196.6" y="1928.7" width="15.6" height="15.6" fill="#FBB450"/>
<text transform="translate(1221.7 1946.5) scale(1.000 1.100)" font-size="26.5" text-anchor="start">MD</text>
<polygon points="1196.5,1974.7 1204.4,1959.1 1212.3,1974.7" fill="#DC1E3D"/>
<text transform="translate(1221.7 1976.9) scale(1.000 1.100)" font-size="26.5" text-anchor="start">JD</text>
<circle cx="1491.1" cy="2120.3" r="7.8" fill="#6397E1"/>
<circle cx="1510.1" cy="2147.3" r="7.8" fill="#6397E1"/>
<circle cx="1538.3" cy="2132.2" r="7.8" fill="#6397E1"/>
<polygon points="1554.0,2183.2 1561.8,2175.4 1569.6,2183.2 1561.8,2191.0" fill="#1F6E48"/>
<polygon points="1569.1,2190.2 1576.9,2182.4 1584.7,2190.2 1576.9,2198.0" fill="#1F6E48"/>
<polygon points="1520.8,2206.0 1528.6,2198.2 1536.4,2206.0 1528.6,2213.8" fill="#1F6E48"/>
<polygon points="1615.7,2170.9 1623.6,2155.3 1631.5,2170.9" fill="#9A2A12"/>
<polygon points="1621.5,2217.3 1629.4,2201.7 1637.3,2217.3" fill="#9A2A12"/>
<polygon points="1569.4,2225.8 1577.3,2210.2 1585.2,2225.8" fill="#9A2A12"/>
<rect x="1800.4" y="2146.8" width="15.6" height="15.6" fill="#FBB450"/>
<rect x="1801.1" y="2151.9" width="15.6" height="15.6" fill="#FBB450"/>
<rect x="1801.1" y="2159.6" width="15.6" height="15.6" fill="#FBB450"/>
<polygon points="1595.2,1866.7 1603.1,1851.1 1611.0,1866.7" fill="#DC1E3D"/>
<polygon points="1601.0,1867.4 1608.9,1851.8 1616.8,1867.4" fill="#DC1E3D"/>
<polygon points="1606.0,1869.4 1613.9,1853.8 1621.8,1869.4" fill="#DC1E3D"/>
<rect x="1397.0" y="1827.6" width="522.0" height="457.6" fill="none" stroke="#231f20" stroke-width="1.40"/>
<line x1="1386.5" y1="1827.6" x2="1397.0" y2="1827.6" stroke="#231f20" stroke-width="1.40" stroke-linecap="butt"/>
<line x1="1386.5" y1="1884.3" x2="1397.0" y2="1884.3" stroke="#231f20" stroke-width="1.40" stroke-linecap="butt"/>
<line x1="1386.5" y1="1999.0" x2="1397.0" y2="1999.0" stroke="#231f20" stroke-width="1.40" stroke-linecap="butt"/>
<line x1="1386.5" y1="2113.3" x2="1397.0" y2="2113.3" stroke="#231f20" stroke-width="1.40" stroke-linecap="butt"/>
<line x1="1386.5" y1="2228.0" x2="1397.0" y2="2228.0" stroke="#231f20" stroke-width="1.40" stroke-linecap="butt"/>
<line x1="1386.5" y1="2285.2" x2="1397.0" y2="2285.2" stroke="#231f20" stroke-width="1.40" stroke-linecap="butt"/>
<line x1="1395.2" y1="1941.5" x2="1397.0" y2="1941.5" stroke="#231f20" stroke-width="1.40" stroke-linecap="butt"/>
<line x1="1395.2" y1="2056.2" x2="1397.0" y2="2056.2" stroke="#231f20" stroke-width="1.40" stroke-linecap="butt"/>
<line x1="1395.2" y1="2170.9" x2="1397.0" y2="2170.9" stroke="#231f20" stroke-width="1.40" stroke-linecap="butt"/>
<line x1="1396.5" y1="2285.2" x2="1396.5" y2="2295.7" stroke="#231f20" stroke-width="1.40" stroke-linecap="butt"/>
<line x1="1501.2" y1="2285.2" x2="1501.2" y2="2295.7" stroke="#231f20" stroke-width="1.40" stroke-linecap="butt"/>
<line x1="1605.4" y1="2285.2" x2="1605.4" y2="2295.7" stroke="#231f20" stroke-width="1.40" stroke-linecap="butt"/>
<line x1="1710.1" y1="2285.2" x2="1710.1" y2="2295.7" stroke="#231f20" stroke-width="1.40" stroke-linecap="butt"/>
<line x1="1814.7" y1="2285.2" x2="1814.7" y2="2295.7" stroke="#231f20" stroke-width="1.40" stroke-linecap="butt"/>
<line x1="1919.0" y1="2285.2" x2="1919.0" y2="2295.7" stroke="#231f20" stroke-width="1.40" stroke-linecap="butt"/>
<text transform="translate(1376.3 1898.7) scale(1.000 1.040)" font-size="30.5" text-anchor="end">0.8</text>
<text transform="translate(1376.3 2011.0) scale(1.000 1.040)" font-size="30.5" text-anchor="end">0.4</text>
<text transform="translate(1376.3 2123.0) scale(1.000 1.040)" font-size="30.5" text-anchor="end">0</text>
<text transform="translate(1376.3 2235.0) scale(1.000 1.040)" font-size="30.5" text-anchor="end">-0.4</text>
<text transform="translate(1419.7 2325.7) scale(1.000 1.040)" font-size="30.5" text-anchor="middle">-1</text>
<text transform="translate(1531.0 2325.7) scale(1.000 1.040)" font-size="30.5" text-anchor="middle">-0.5</text>
<text transform="translate(1635.2 2325.7) scale(1.000 1.040)" font-size="30.5" text-anchor="middle">0</text>
<text transform="translate(1743.3 2325.7) scale(1.000 1.040)" font-size="30.5" text-anchor="middle">0.5</text>
<text transform="translate(1853.0 2325.7) scale(1.000 1.040)" font-size="30.5" text-anchor="middle">1</text>
<text transform="translate(1960.3 2325.7) scale(1.000 1.040)" font-size="30.5" text-anchor="middle">1.5</text>
<text transform="translate(1659.1 2360.5) scale(1.000 1.040)" font-size="30.5" text-anchor="middle">PC1:25.42%</text>
<text transform="translate(1325.0 2027.2) rotate(-90) scale(1.000 1.040)" font-size="30.5" text-anchor="middle">PC2:19.12%</text>
<text transform="translate(1654.1 1805.2) scale(1.000 0.980)" font-size="30.5" text-anchor="middle">WU ditance</text>
<text transform="translate(1337.5 1809.0) scale(1.000 1.000)" font-size="29.5" text-anchor="start">l</text>
<rect x="1849.1" y="1827.6" width="70.3" height="145.9" fill="#fff" stroke="#000" stroke-width="1.5"/>
<circle cx="1858.4" cy="1841.1" r="7.8" fill="#6397E1"/>
<text transform="translate(1876.1 1851.1) scale(1.000 1.100)" font-size="26.5" text-anchor="start">WS</text>
<polygon points="1850.6,1870.8 1858.4,1863.0 1866.2,1870.8 1858.4,1878.6" fill="#1F6E48"/>
<text transform="translate(1876.1 1880.8) scale(1.000 1.100)" font-size="26.5" text-anchor="start">YP</text>
<polygon points="1850.5,1908.7 1858.4,1893.1 1866.3,1908.7" fill="#9A2A12"/>
<text transform="translate(1876.1 1910.9) scale(1.000 1.100)" font-size="26.5" text-anchor="start">ZJ</text>
<rect x="1850.6" y="1922.9" width="15.6" height="15.6" fill="#FBB450"/>
<text transform="translate(1876.1 1940.7) scale(1.000 1.100)" font-size="26.5" text-anchor="start">MD</text>
<polygon points="1850.5,1968.2 1858.4,1952.6 1866.3,1968.2" fill="#DC1E3D"/>
<text transform="translate(1876.1 1970.4) scale(1.000 1.100)" font-size="26.5" text-anchor="start">JD</text>
</svg>
</body>
</html>
